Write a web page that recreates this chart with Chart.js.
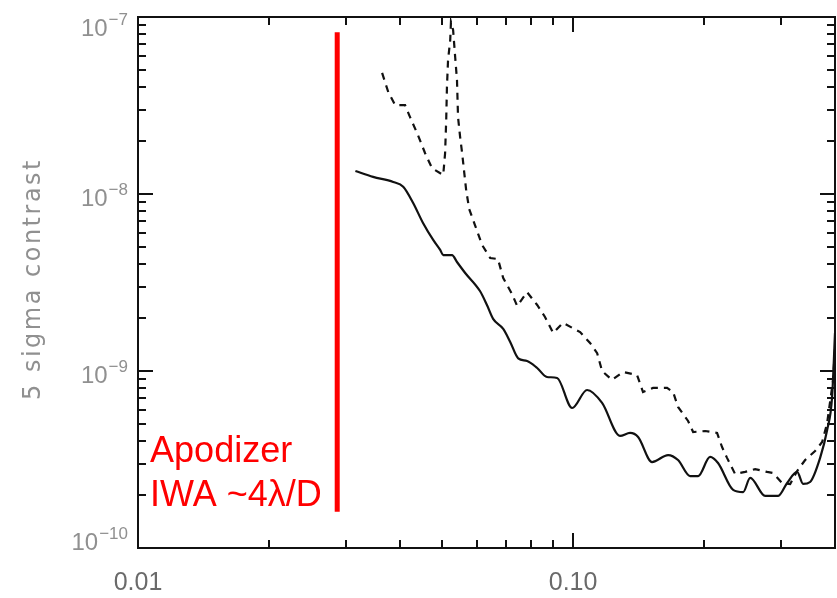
<!DOCTYPE html>
<html>
<head>
<meta charset="utf-8">
<script src="https://cdn.jsdelivr.net/npm/chart.js@4/dist/chart.umd.min.js"></script>
<style>
  html, body { margin: 0; padding: 0; background: #fff; }
  #wrap { width: 837px; height: 598px; }
</style>
</head>
<body>
<div id="wrap"><canvas id="contrastChart"></canvas></div>
<script>
// separation (x) and 5 sigma contrast (y)
const solidX = [0.0316, 0.0347, 0.0386, 0.0407, 0.0429, 0.0452, 0.0477, 0.0495, 0.0503, 0.0527,
  0.0541, 0.0565, 0.0611, 0.0634, 0.0655, 0.0691, 0.0717, 0.0748, 0.0784, 0.0827,
  0.0871, 0.0919, 0.0995, 0.1077, 0.1166, 0.1282, 0.1352, 0.1411, 0.1519, 0.1654,
  0.1743, 0.1858, 0.1939, 0.2065, 0.2154, 0.2333, 0.2460, 0.2553, 0.2764, 0.2961,
  0.3105, 0.3273, 0.3379, 0.3506, 0.3697, 0.3837, 0.3939, 0.4000];
const solidY = [1.35e-8, 1.25e-8, 1.17e-8, 1.10e-8, 8.9e-9, 6.86e-9, 5.50e-9, 4.83e-9, 4.52e-9, 4.52e-9,
  4.13e-9, 3.58e-9, 2.83e-9, 2.36e-9, 1.97e-9, 1.73e-9, 1.46e-9, 1.18e-9, 1.14e-9, 1.04e-9,
  9.25e-10, 9.13e-10, 6.18e-10, 7.81e-10, 6.60e-10, 4.30e-10, 4.47e-10, 4.24e-10, 3.06e-10, 3.35e-10,
  3.14e-10, 2.55e-10, 2.55e-10, 3.27e-10, 3.02e-10, 2.13e-10, 2.07e-10, 2.49e-10, 1.97e-10, 1.97e-10,
  2.33e-10, 2.69e-10, 2.30e-10, 2.36e-10, 3.23e-10, 4.64e-10, 7.13e-10, 1.64e-9];

const dashedX = [0.0364, 0.0376, 0.0390, 0.0411, 0.0422, 0.0440, 0.0457, 0.0474, 0.0503, 0.0508,
  0.0511, 0.0513, 0.0516, 0.0522, 0.0524, 0.0530, 0.0536, 0.0541, 0.0544, 0.0550,
  0.0556, 0.0562, 0.0568, 0.0577, 0.0595, 0.0618, 0.0645, 0.0672, 0.0691, 0.0724,
  0.0744, 0.0784, 0.0827, 0.0862, 0.0900, 0.0948, 0.1038, 0.1094, 0.1136, 0.1166,
  0.1229, 0.1303, 0.1403, 0.1448, 0.1527, 0.1645, 0.1698, 0.1743, 0.1838, 0.1888,
  0.2011, 0.2143, 0.2200, 0.2259, 0.2357, 0.2486, 0.2621, 0.2793, 0.2884, 0.3023,
  0.3155, 0.3273, 0.3415, 0.3600, 0.3737, 0.3837, 0.3960, 0.4000];
const dashedY = [4.83e-8, 3.77e-8, 3.18e-8, 3.18e-8, 2.72e-8, 2.15e-8, 1.70e-8, 1.40e-8, 1.28e-8, 1.70e-8,
  2.62e-8, 4.02e-8, 5.71e-8, 7.41e-8, 9.37e-8, 8.44e-8, 5.87e-8, 4.41e-8, 2.72e-8, 2.10e-8,
  1.70e-8, 1.33e-8, 1.05e-8, 8.23e-9, 6.68e-9, 5.15e-9, 4.35e-9, 4.29e-9, 3.35e-9, 2.72e-9,
  2.33e-9, 2.79e-9, 2.36e-9, 2.02e-9, 1.64e-9, 1.87e-9, 1.66e-9, 1.44e-9, 1.26e-9, 1.00e-9,
  8.90e-10, 9.87e-10, 9.49e-10, 7.61e-10, 8.02e-10, 8.02e-10, 7.61e-10, 6.26e-10, 5.22e-10, 4.52e-10,
  4.58e-10, 4.47e-10, 3.72e-10, 3.23e-10, 2.62e-10, 2.69e-10, 2.79e-10, 2.69e-10, 2.65e-10, 2.33e-10,
  2.30e-10, 2.72e-10, 3.14e-10, 3.53e-10, 3.97e-10, 5.08e-10, 8.90e-10, 1.35e-9];

// inner working angle marker (red line)
const iwaX = [0.0287, 0.0287];
const iwaY = [8.2e-8, 1.6e-10];
const iwaText = ['Apodizer', 'IWA ~4\u03bb/D'];
const iwaTextX = 0.01066;
const iwaTextY = [3.06e-10, 1.73e-10];

// axes
const xMin = 0.01, xMax = 0.4;
const yMin = 1e-10, yMax = 1e-7;
const xMajorTicks = [0.01, 0.1];
const xTickLabels = ['0.01', '0.10'];
const yMajorTicks = [1e-10, 1e-9, 1e-8, 1e-7];
const yTickExponents = ['\u221210', '\u22129', '\u22128', '\u22127'];
const yTitle = '5 sigma contrast';

function minorTicks(lo, hi) {
  const out = [];
  for (let d = Math.floor(Math.log10(lo)); d < Math.ceil(Math.log10(hi)); d++) {
    for (let m = 2; m <= 9; m++) {
      const v = m * Math.pow(10, d);
      if (v > lo && v < hi) out.push(v);
    }
  }
  return out;
}
const xMinorTicks = minorTicks(xMin, xMax);
const yMinorTicks = minorTicks(yMin, yMax);

function pts(xs, ys) {
  return xs.map((x, i) => ({ x: x, y: ys[i] }));
}

// frame, inward ticks on all four sides, labels and the red note
const idlAxes = {
  id: 'idlAxes',
  afterDatasetsDraw(chart) {
    const { ctx, chartArea: a, scales } = chart;
    const xs = scales.x, ys = scales.y;
    ctx.save();
    ctx.strokeStyle = '#111';
    ctx.lineWidth = 2;
    ctx.strokeRect(a.left, a.top, a.right - a.left, a.bottom - a.top);

    ctx.beginPath();
    const tick = (v, len, isX) => {
      if (isX) {
        const p = Math.round(xs.getPixelForValue(v));
        ctx.moveTo(p, a.bottom); ctx.lineTo(p, a.bottom - len);
        ctx.moveTo(p, a.top); ctx.lineTo(p, a.top + len);
      } else {
        const p = Math.round(ys.getPixelForValue(v));
        ctx.moveTo(a.left, p); ctx.lineTo(a.left + len, p);
        ctx.moveTo(a.right, p); ctx.lineTo(a.right - len, p);
      }
    };
    xMajorTicks.forEach(v => tick(v, 15, true));
    xMinorTicks.forEach(v => tick(v, 8, true));
    yMajorTicks.forEach(v => tick(v, 15, false));
    yMinorTicks.forEach(v => tick(v, 8, false));
    ctx.stroke();

    // x tick labels
    ctx.fillStyle = '#6a6a6a';
    ctx.font = '25px "Liberation Sans", Arial, sans-serif';
    ctx.textAlign = 'center';
    ctx.textBaseline = 'alphabetic';
    xMajorTicks.forEach((v, i) => {
      ctx.fillText(xTickLabels[i], xs.getPixelForValue(v), a.bottom + 42);
    });

    // y tick labels: 10 with superscript exponent
    ctx.fillStyle = '#909090';
    const right = a.left - 10;
    yMajorTicks.forEach((v, i) => {
      let base = ys.getPixelForValue(v) + 12;
      base = Math.max(base, a.top + 19);
      base = Math.min(base, a.bottom + 2);
      ctx.font = '17px "Liberation Sans", Arial, sans-serif';
      ctx.textAlign = 'right';
      const ew = ctx.measureText(yTickExponents[i]).width;
      ctx.fillText(yTickExponents[i], right, base - 11);
      ctx.font = '24px "Liberation Sans", Arial, sans-serif';
      ctx.fillText('10', right - ew - 1, base);
    });

    // y title
    ctx.save();
    ctx.translate(40, 279);
    ctx.rotate(-Math.PI / 2);
    ctx.font = '24px "DejaVu Sans", sans-serif';
    ctx.letterSpacing = '2.5px';
    ctx.fillStyle = '#909090';
    ctx.textAlign = 'center';
    ctx.fillText(yTitle, 0, 0);
    ctx.restore();

    // red annotation
    ctx.fillStyle = '#ff0000';
    ctx.font = '36px "Liberation Sans", Arial, sans-serif';
    ctx.textAlign = 'left';
    iwaText.forEach((t, i) => {
      ctx.fillText(t, xs.getPixelForValue(iwaTextX), ys.getPixelForValue(iwaTextY[i]));
    });
    ctx.restore();
  }
};

const ctx = document.getElementById('contrastChart').getContext('2d');
new Chart(ctx, {
  type: 'line',
  data: {
    datasets: [
      {
        label: 'solid',
        data: pts(solidX, solidY),
        borderColor: '#111',
        borderWidth: 2.2,
        pointRadius: 0,
        cubicInterpolationMode: 'monotone',
        fill: false
      },
      {
        label: 'dashed',
        data: pts(dashedX, dashedY),
        borderColor: '#111',
        borderWidth: 2.2,
        borderDash: [7, 6],
        pointRadius: 0,
        tension: 0,
        fill: false
      },
      {
        label: 'IWA',
        data: pts(iwaX, iwaY),
        borderColor: '#ff0000',
        borderWidth: 5,
        pointRadius: 0,
        fill: false
      }
    ]
  },
  options: {
    responsive: true,
    maintainAspectRatio: false,
    animation: false,
    layout: { padding: { left: 138, top: 17, right: 2, bottom: 50 } },
    plugins: {
      legend: { display: false },
      tooltip: { enabled: false }
    },
    scales: {
      x: { type: 'logarithmic', min: xMin, max: xMax, display: false },
      y: { type: 'logarithmic', min: yMin, max: yMax, display: false }
    }
  },
  plugins: [idlAxes]
});
</script>
</body>
</html>
